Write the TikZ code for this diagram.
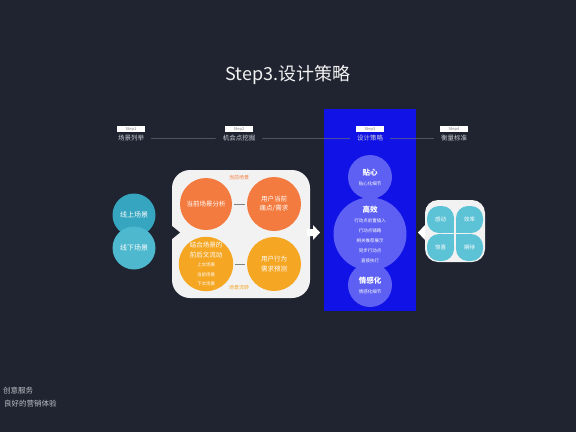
\documentclass[tikz,border=0pt]{standalone}
\usepackage{fontspec}
\setmainfont{Noto Sans CJK SC}
\usetikzlibrary{positioning}

\definecolor{bgdark}{HTML}{1F2430}
\definecolor{stratblue}{HTML}{1012E6}
\definecolor{stratdot}{HTML}{5D60F2}
\definecolor{curorange}{HTML}{F47B3F}
\definecolor{flowyellow}{HTML}{F5A623}
\definecolor{tealdark}{HTML}{35A5C0}
\definecolor{teallight}{HTML}{4DB8CE}
\definecolor{leafteal}{HTML}{5CC2D5}
\definecolor{panelwhite}{HTML}{F2F2F2}
\definecolor{stepgray}{HTML}{6B6F7A}
\definecolor{steptext}{HTML}{C8CCD4}

\newcommand{\bigtxt}{\fontsize{6.5}{9.5}\selectfont}
\newcommand{\headtxt}{\fontsize{7.5}{10}\selectfont\bfseries}
\newcommand{\finetxt}{\fontsize{4.5}{6.2}\selectfont\mdseries}

\begin{document}
\begin{tikzpicture}[x=1pt, y=-1pt,
  dot/.style={circle, inner sep=0pt, text=white, align=center},
  stepbox/.style={rectangle, fill=white, minimum width=28pt, minimum height=6pt,
    inner sep=0pt, text=gray, font=\fontsize{4}{4}\selectfont},
  steplabel/.style={inner sep=1pt, text=steptext, font=\fontsize{6.5}{7}\selectfont},
  stepline/.style={stepgray, line width=0.6pt, shorten <=6pt, shorten >=6pt},
  mid/.style={font=\bigtxt},
  leaf/.style={rectangle, rounded corners=12pt, fill=leafteal, minimum size=27pt,
    inner sep=0pt, text=white, font=\fontsize{5.5}{6}\selectfont},
  tag/.style={inner sep=0pt, font=\fontsize{5}{6}\selectfont},
  note/.style={anchor=west, inner sep=0pt, text=steptext!85!gray, font=\fontsize{7.5}{8}\selectfont}]

% page and background
\fill[bgdark] (0,0) rectangle (576,432);
\useasboundingbox (0,0) rectangle (576,432);

\node[text=white!90!gray, font=\fontsize{18}{20}\selectfont] (title) at (288,75) {Step3.设计策略};

% strategy column
\fill[stratblue] (324,109) rectangle (416,311);

% step bar
\node[stepbox] (s1) at (131,129) {Step1};
\node[stepbox] (s2) at (239,129) {Step2};
\node[stepbox] (s3) at (370,129) {Step3};
\node[stepbox] (s4) at (454,129) {Step4};
\node[steplabel, below=2pt of s1] (l1) {场景列举};
\node[steplabel, below=2pt of s2] (l2) {机会点挖掘};
\node[steplabel, below=2pt of s3] (l3) {设计策略};
\node[steplabel, below=2pt of s4] (l4) {衡量标准};
\draw[stepline] (l1) -- (l2);
\draw[stepline] (l2) -- (l3);
\draw[stepline] (l3) -- (l4);

% scenes
\node[dot, fill=tealdark, minimum size=43pt, font=\fontsize{7}{8}\selectfont] (online) at (134,215) {线上场景};
\node[dot, fill=teallight, minimum size=43pt, font=\fontsize{7}{8}\selectfont] (offline) at (134,248) {线下场景};

% opportunity panel
\node[rectangle, rounded corners=18pt, fill=panelwhite, minimum width=138pt, minimum height=128pt,
  inner sep=0pt] (panel) at (241,234) {};
\fill[bgdark] (169,229) -- (172.5,229) -- (172.5,236) -- (169,236) -- cycle;
\fill[bgdark] (172,226) -- (180,232.5) -- (172,239) -- cycle;
\fill[white] (307,229) -- (313,229) -- (313,225) -- (320,232.5) -- (313,240) -- (313,236) -- (307,236) -- cycle;

\node[tag, text=curorange] (curtag) at (239,178) {当前场景};
\node[tag, text=flowyellow] (flowtag) at (239,288) {场景流转};

\node[dot, fill=curorange, minimum size=52pt, mid] (cur) at (206,204) {当前场景分析};
\node[dot, fill=curorange, minimum size=54pt, mid] (pain) at (274,204) {用户当前\\痛点/需求};
\node[dot, fill=flowyellow, minimum size=54pt, font=\bigtxt] (ctx) at (206,264)
  {结合场景的\\前后文流动\\\finetxt 上文场景\\\finetxt 当前场景\\\finetxt 下文场景};
\node[dot, fill=flowyellow, minimum size=54pt, mid] (pred) at (274,264) {用户行为\\需求预测};
\draw[gray, line width=0.8pt] ([xshift=2pt]cur.east) -- ([xshift=-2pt]pain.west);
\draw[gray, line width=0.8pt] ([xshift=2pt]ctx.east) -- ([xshift=-2pt]pred.west);

% strategies
\node[dot, fill=stratdot, minimum size=44pt, font=\headtxt] (care) at (370,177)
  {贴心\\\finetxt 贴心化细节};
\node[dot, fill=stratdot, minimum size=44pt, font=\headtxt] (emo) at (370,285)
  {情感化\\\finetxt 情感化细节};
\node[dot, fill=stratdot, minimum size=73pt, font=\headtxt] (fast) at (370,234)
  {高效\\\finetxt 行动点前置插入\\\finetxt 行动点铺路\\\finetxt 相关推荐展示\\\finetxt 同步行动点\\\finetxt 直接执行};

% measures
\fill[white] (432,229) -- (425,229) -- (425,225) -- (418,232.5) -- (425,240) -- (425,236) -- (432,236) -- cycle;
\node[rectangle, rounded corners=13pt, fill=panelwhite, minimum width=60pt, minimum height=62pt,
  inner sep=0pt] (measure) at (455,231) {};
\fill[leafteal] (440.5,219.5) rectangle (454,233);
\fill[leafteal] (456,219.5) rectangle (469.5,233);
\fill[leafteal] (440.5,234) rectangle (454,247.5);
\fill[leafteal] (456,234) rectangle (469.5,247.5);
\node[leaf] (touch) at (440.5,219.5) {感动};
\node[leaf] (effic) at (469.5,219.5) {效率};
\node[leaf] (surp) at (440.5,247.5) {惊喜};
\node[leaf] (expect) at (469.5,247.5) {期待};

% footnote
\node[note] (note1) at (3,391) {创意服务};
\node[note] (note2) at (4,404) {良好的营销体验};
\end{tikzpicture}
\end{document}
